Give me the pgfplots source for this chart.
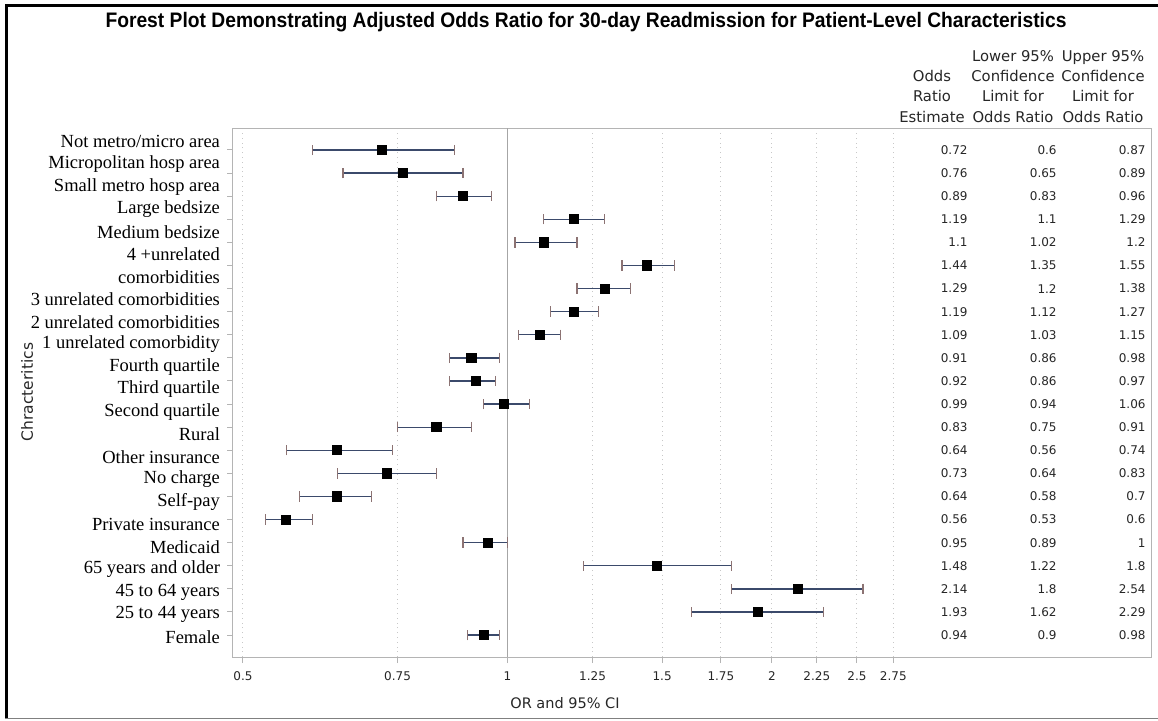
\documentclass[border=0pt]{standalone}
\usepackage{fontspec}
\setmainfont{Liberation Serif}
\newfontfamily\dejavu{DejaVu Sans}
\newfontfamily\libsans{Liberation Sans}
\usepackage{graphicx}
\usepackage{pgfplots}
\pgfplotsset{compat=1.18}
\usepackage{pgfplotstable}

\definecolor{whisk}{HTML}{3B4A6B}
\definecolor{capc}{HTML}{8C7373}
\definecolor{framec}{HTML}{B4B4B4}
\definecolor{gridc}{HTML}{C8C8C8}

% rows: 22 = top (Not metro/micro area) ... 1 = Female
\pgfplotstableread{
y  or   lo   hi
22 0.72 0.6  0.87
21 0.76 0.65 0.89
20 0.89 0.83 0.96
19 1.19 1.1  1.29
18 1.1  1.02 1.2
17 1.44 1.35 1.55
16 1.29 1.2  1.38
15 1.19 1.12 1.27
14 1.09 1.03 1.15
13 0.91 0.86 0.98
12 0.92 0.86 0.97
11 0.99 0.94 1.06
10 0.83 0.75 0.91
9  0.64 0.56 0.74
8  0.73 0.64 0.83
7  0.64 0.58 0.7
6  0.56 0.53 0.6
5  0.95 0.89 1
4  1.48 1.22 1.8
3  2.14 1.8  2.54
2  1.93 1.62 2.29
1  0.94 0.9  0.98
}\ortable

\begin{document}
\begin{tikzpicture}
% page = 1158 x 720 px at 0.5pt per px
\path[use as bounding box] (0,0) rectangle (579pt,360pt);
\draw[black, line width=1.5pt] (2.5pt,357.5pt) -- (579pt,357.5pt);
\draw[black, line width=1.5pt] (3pt,358pt) -- (3pt,0.5pt);
\draw[gray, line width=0.6pt] (2.5pt,0.6pt) -- (579pt,0.6pt);

\begin{axis}[
  at={(116.5pt,31.5pt)}, anchor=south west,
  scale only axis, width=459.5pt, height=264.5pt,
  xmode=log,
  xmin=0.4871, xmax=5.417,
  ymin=0.05, ymax=22.95,
  axis line style={framec, line width=0.5pt},
  tick pos=left, tick align=outside,
  major tick length=3pt,
  tick style={framec, line width=0.5pt},
  xtick={0.5,0.75,1,1.25,1.5,1.75,2,2.25,2.5,2.75},
  xticklabels={0.5,0.75,1,1.25,1.5,1.75,2,2.25,2.5,2.75},
  xticklabel style={font=\dejavu\fontsize{6}{7}\selectfont, text=black!85, yshift=-1pt},
  /pgf/number format/assume math mode=true,
  xmajorgrids,
  major grid style={gridc, dotted, line width=0.5pt},
  extra x ticks={1}, extra x tick labels={},
  extra x tick style={major grid style={solid, black!35, line width=0.6pt}},
  ytick={1,...,22}, yticklabels={},
  extra y ticks={22.346,21.372,20.398,19.423,18.449,17.475,16.501,15.527,14.552,13.578,12.604,11.630,10.656,9.681,8.707,7.733,6.759,5.785,4.810,3.836,2.862,1.888,0.913},
  extra y tick labels={Not metro/micro area,Micropolitan hosp area,Small metro hosp area,Large bedsize,Medium bedsize,4 +unrelated,comorbidities,3 unrelated comorbidities,2 unrelated comorbidities,1 unrelated comorbidity,Fourth quartile,Third quartile,Second quartile,Rural,Other insurance,No charge,Self-pay,Private insurance,Medicaid,65 years and older,45 to 64 years,25 to 44 years,Female},
  extra y tick style={major tick length=0pt, ymajorgrids=false,
    yticklabel style={font=\fontsize{9.25}{10}\selectfont, text=black, xshift=-3pt}},
  clip=false,
]
\addplot[only marks, mark=square*, mark size=2.3pt, black,
  error bars/.cd, x dir=both, x explicit,
  error bar style={whisk, line width=0.65pt},
  error mark options={rotate=90, capc, line width=0.6pt, mark size=2.6pt}]
  table[x=or, y=y,
    x error plus expr=\thisrow{hi}-\thisrow{or},
    x error minus expr=\thisrow{or}-\thisrow{lo}] {\ortable};

% value columns of the table on the right
\pgfplotsset{valcol/.style={draw=none, nodes near coords, point meta=explicit symbolic,
  every node near coord/.style={anchor=east, inner sep=0pt,
    font=\dejavu\fontsize{6}{7}\selectfont, text=black!85}}}
\addplot[valcol] table[x expr=3.344, y=y, meta=or] {\ortable};
\addplot[valcol] table[x expr=4.223, y=y, meta=lo] {\ortable};
\addplot[valcol] table[x expr=5.332, y=y, meta=hi] {\ortable};
\end{axis}

% title, headers and axis labels
\node[anchor=base, inner sep=0pt] at (293pt,346.5pt)
  {\resizebox{480.5pt}{\height}{\libsans\bfseries\fontsize{10.5}{12}\selectfont Forest Plot Demonstrating Adjusted Odds Ratio for 30-day Readmission for Patient-Level Characteristics}};
\begin{scope}[every node/.style={anchor=south, align=center, inner sep=0pt,
    font=\dejavu\fontsize{7.4}{10.2}\selectfont, text=black!85}]
\node at (466pt,298.5pt) {Odds\\Ratio\\Estimate};
\node at (506.5pt,298.5pt) {Lower 95\%\\Confidence\\Limit for\\Odds Ratio};
\node at (551.5pt,298.5pt) {Upper 95\%\\Confidence\\Limit for\\Odds Ratio};
\end{scope}
\node[rotate=90, font=\dejavu\fontsize{7.75}{8}\selectfont, text=black!85] at (13.5pt,164pt) {Chracteritics};
\node[font=\dejavu\fontsize{7.25}{8}\selectfont, text=black!85] at (282.5pt,8.5pt) {OR and 95\% CI};
\end{tikzpicture}
\end{document}
